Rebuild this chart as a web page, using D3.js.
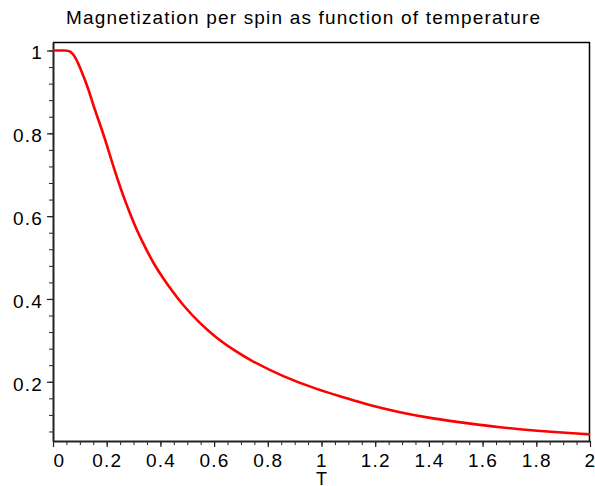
<!DOCTYPE html>
<html>
<head>
<meta charset="utf-8">
<script src="https://cdn.jsdelivr.net/npm/d3@7"></script>
<style>
  html, body { margin: 0; padding: 0; background: #fff; }
  svg { display: block; font-family: "Liberation Sans", Arial, sans-serif; }
</style>
</head>
<body>
<div id="chart"></div>
<script>
// values
const temperature = [0, 0.05, 0.063, 0.082, 0.107, 0.131, 0.150, 0.169, 0.194, 0.219, 0.243, 0.262, 0.287,
  0.312, 0.343, 0.380, 0.417, 0.442, 0.485, 0.547, 0.610, 0.672, 0.734, 0.858, 0.982, 1.09, 1.168,
  1.292, 1.416, 1.541, 1.665, 1.789, 2.0];
const magnetization = [1.0, 1.0, 0.999, 0.987, 0.949, 0.909, 0.868, 0.833, 0.786, 0.732, 0.684, 0.648, 0.606,
  0.566, 0.525, 0.479, 0.444, 0.421, 0.384, 0.341, 0.305, 0.277, 0.252, 0.212, 0.182, 0.161, 0.145,
  0.126, 0.111, 0.100, 0.090, 0.082, 0.073];

const xTicks = [0, 0.2, 0.4, 0.6, 0.8, 1, 1.2, 1.4, 1.6, 1.8, 2];
const yTicks = [0.2, 0.4, 0.6, 0.8, 1];
const xMinor = d3.range(0, 40).map(i => i * 0.05);
const yMinor = d3.range(2, 26).map(i => i * 0.04);

const titleText = 'Magnetization per spin as function of temperature';
const xLabel = 'T';

const width = 595;
const height = 486;

const svg = d3.select('#chart')
    .append('svg')
    .attr('width', width)
    .attr('height', height);

const x = d3.scaleLinear().domain([0, 2]).range([53, 590]);
const y = d3.scaleLinear().domain([0.057, 1.0205]).range([441, 42]);

// frame (top + right)
svg.append('line')
    .attr('x1', 53).attr('x2', 590).attr('y1', 42.5).attr('y2', 42.5)
    .attr('stroke', '#000').attr('stroke-width', 1.5);
svg.append('line')
    .attr('x1', 589.5).attr('x2', 589.5).attr('y1', 42).attr('y2', 441)
    .attr('stroke', '#000').attr('stroke-width', 1.5);

// minor ticks
svg.append('g')
    .attr('transform', 'translate(0,441)')
    .call(d3.axisBottom(x).tickValues(xMinor).tickSize(4).tickFormat(''))
    .call(g => g.select('.domain').remove());
svg.append('g')
    .attr('transform', 'translate(53,0)')
    .call(d3.axisLeft(y).tickValues(yMinor).tickSize(4).tickFormat(''))
    .call(g => g.select('.domain').remove());

// major axes
const xAxis = svg.append('g')
    .attr('transform', 'translate(0,441)')
    .call(d3.axisBottom(x).tickValues(xTicks).tickSize(6).tickSizeOuter(0).tickFormat(d => String(d)));
const yAxis = svg.append('g')
    .attr('transform', 'translate(53,0)')
    .call(d3.axisLeft(y).tickValues(yTicks).tickSize(6).tickSizeOuter(0).tickFormat(d => String(d)));

[xAxis, yAxis].forEach(g => {
  g.select('.domain').attr('stroke', '#222').attr('stroke-width', 2);
  g.selectAll('.tick line').attr('stroke', '#222').attr('stroke-width', 1.2);
  g.selectAll('.tick text')
      .attr('fill', '#000')
      .style('font-size', '19px')
      .style('letter-spacing', '1.2px')
      .style('font-family', '"Liberation Sans", Arial, sans-serif');
});
svg.selectAll('g .tick line').attr('stroke', '#222');

xAxis.selectAll('.tick text')
    .attr('y', 0)
    .attr('dy', null)
    .attr('transform', 'translate(0,26)')
    .attr('text-anchor', d => d === 0 ? 'start' : 'middle');

yAxis.selectAll('.tick text')
    .attr('x', -10)
    .attr('dy', '8.5');

// curve
const line = d3.line()
    .x((d, i) => x(temperature[i]))
    .y(d => y(d))
    .curve(d3.curveBasis);

svg.append('path')
    .datum(magnetization)
    .attr('fill', 'none')
    .attr('stroke', '#ff0000')
    .attr('stroke-width', 2.6)
    .attr('stroke-linejoin', 'round')
    .attr('d', line);

// title
svg.append('text')
    .attr('x', 66)
    .attr('y', 23.5)
    .attr('textLength', 474)
    .attr('lengthAdjust', 'spacing')
    .attr('fill', '#000')
    .style('font-size', '19px')
    .text(titleText);

// x label
svg.append('text')
    .attr('x', x(1))
    .attr('y', 485)
    .attr('text-anchor', 'middle')
    .attr('fill', '#000')
    .style('font-size', '18px')
    .text(xLabel);
</script>
</body>
</html>
